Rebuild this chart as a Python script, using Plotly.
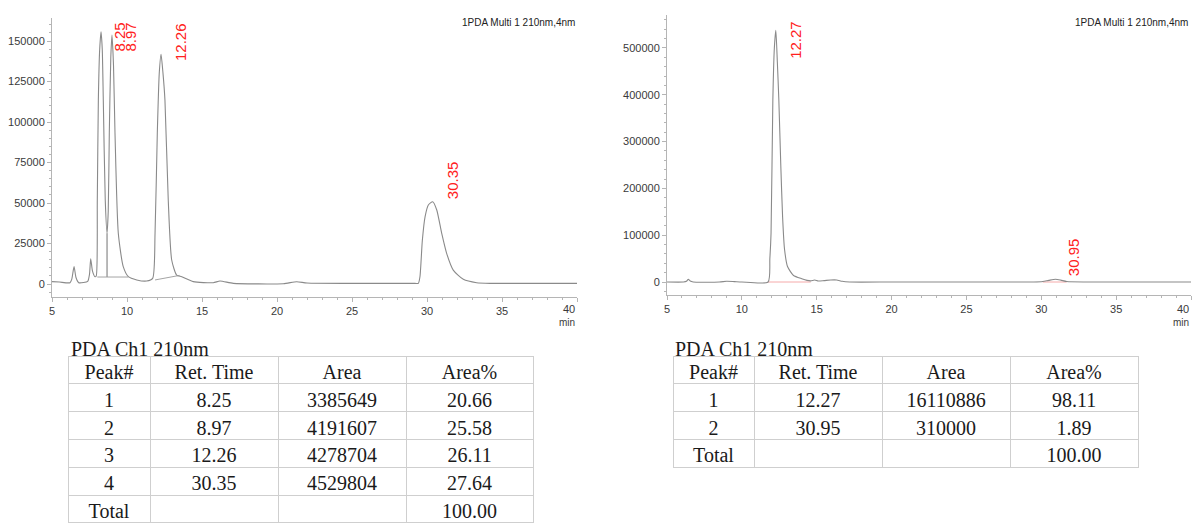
import plotly.graph_objects as go

W, H = 1192, 524

# ---------------- Data: left chromatogram (sample 1) ----------------
left_time = [5.0, 5.5, 6.2, 6.32, 6.47, 6.6, 6.78, 7.1, 7.38, 7.5, 7.58, 7.7, 7.87, 7.95, 8.02, 8.09, 8.18, 8.27,
             8.35, 8.42, 8.55, 8.67, 8.75, 8.82, 8.92, 9.0, 9.1, 9.2, 9.42, 9.75, 10.09, 10.65, 11.31, 11.71,
             11.87, 12.02, 12.15, 12.27, 12.4, 12.53, 12.75, 12.98, 13.31, 13.65, 14.42, 15.75, 16.2, 17.09,
             20.42, 21.31, 22.0, 25.0, 29.2, 29.42, 29.53, 29.69, 29.87, 30.09, 30.38, 30.65, 30.98, 31.31,
             31.75, 32.42, 33.31, 34.2, 37.0, 40.0]
left_signal = [1450, 1200, 800, 3000, 10700, 4000, 800, 900, 1600, 6000, 15600, 8000, 4500, 5000, 51800, 113500,
               145000, 155700, 145000, 113500, 51800, 31300, 45000, 93000, 140000, 153700, 135000, 93000, 31300,
               10700, 4500, 2500, 1850, 3500, 31300, 93000, 130000, 141800, 130000, 113500, 51800, 14800, 5500,
               4500, 1450, 800, 1850, 400, 200, 1400, 600, 400, 400, 400, 4500, 27000, 41500, 48800, 50800, 45700,
               31300, 18900, 8600, 2900, 800, 400, 400, 400]
# integration baselines / drop lines (left)
left_base1_time = [8.02, 8.67, 8.67, 8.67, 10.09]
left_base1_signal = [4300, 4300, 31300, 4300, 4300]
left_base2_time = [11.87, 13.5]
left_base2_signal = [2500, 5300]

left_peak_labels = ["8.25", "8.97", "12.26", "30.35"]
left_label_time = [9.47, 10.2, 13.53, 31.67]
left_label_signal = [142600, 142600, 137000, 51800]

# ---------------- Data: right chromatogram (sample 2) ----------------
right_time = [5.0, 6.1, 6.3, 6.42, 6.55, 6.75, 8.5, 8.98, 9.5, 10.0, 11.75, 11.87, 11.95, 12.07, 12.17, 12.27,
              12.37, 12.47, 12.6, 12.72, 12.85, 13.05, 13.45, 14.0, 14.35, 14.6, 14.87, 15.1, 15.5, 15.93, 16.33,
              16.7, 17.2, 20.0, 25.0, 29.5, 30.1, 30.5, 30.95, 31.3, 31.7, 33.0, 36.0, 40.0]
right_signal = [0, 0, 1500, 5800, 2000, 0, 0, 1500, 800, 0, 0, 50000, 104700, 389000, 500000, 538000, 470000,
                389000, 250000, 140000, 70000, 33000, 14000, 7000, 3500, 2500, 4300, 2000, 3000, 4300, 4300, 1500,
                0, 0, 0, 0, 1000, 3500, 5800, 4000, 1000, 0, 0, 0]
right_base_time = [11.75, 14.6]
right_base_signal = [0, 0]
right_base2_time = [30.1, 31.7]
right_base2_signal = [0, 0]

right_peak_labels = ["12.27", "30.95"]
right_label_time = [13.53, 32.2]
right_label_signal = [474000, 10700]

# ---------------- Axis tick labels ----------------
x_tickvals = [5, 10, 15, 20, 25, 30, 35, 40]
x_ticktext = ["5", "10", "15", "20", "25", "30", "35", ""]   # "40" drawn right-aligned with "min"
x_end_label = "40"
x_unit = "min"

# ---------------- Data: tables ----------------
table_header = ["Peak#", "Ret. Time", "Area", "Area%"]
left_peak_no = ["1", "2", "3", "4", "Total"]
left_ret = ["8.25", "8.97", "12.26", "30.35", ""]
left_area = ["3385649", "4191607", "4278704", "4529804", ""]
left_area_pct = ["20.66", "25.58", "26.11", "27.64", "100.00"]

right_peak_no = ["1", "2", "Total"]
right_ret = ["12.27", "30.95", ""]
right_area = ["16110886", "310000", ""]
right_area_pct = ["98.11", "1.89", "100.00"]

channel_text = "1PDA Multi 1 210nm,4nm"
table_title = "PDA Ch1 210nm"

# ---------------- Figure ----------------
def px_x(p):
    return p / W

def px_y(p):
    return 1 - p / H

TRACE = "#8a8a8a"
AXIS = "#b5b5b5"
TICKC = "#3a3a3a"
RED = "#ff2020"
SANS = "Liberation Sans, Arial, sans-serif"
SERIF = "Liberation Serif, Times New Roman, serif"

fig = go.Figure()

fig.add_trace(go.Scatter(x=left_time, y=left_signal, mode="lines",
                         line=dict(color=TRACE, width=1.1, shape="spline", smoothing=0.6),
                         xaxis="x", yaxis="y", showlegend=False, hoverinfo="skip"))
fig.add_trace(go.Scatter(x=left_base1_time, y=left_base1_signal, mode="lines", line=dict(color="#9a9a9a", width=0.9),
                         xaxis="x", yaxis="y", showlegend=False, hoverinfo="skip"))
fig.add_trace(go.Scatter(x=left_base2_time, y=left_base2_signal, mode="lines", line=dict(color="#9a9a9a", width=0.9),
                         xaxis="x", yaxis="y", showlegend=False, hoverinfo="skip"))

fig.add_trace(go.Scatter(x=right_base_time, y=right_base_signal, mode="lines", line=dict(color="#f4a0a0", width=0.9),
                         xaxis="x2", yaxis="y2", showlegend=False, hoverinfo="skip"))
fig.add_trace(go.Scatter(x=right_base2_time, y=right_base2_signal, mode="lines", line=dict(color="#f4a0a0", width=0.9),
                         xaxis="x2", yaxis="y2", showlegend=False, hoverinfo="skip"))
fig.add_trace(go.Scatter(x=right_time, y=right_signal, mode="lines",
                         line=dict(color=TRACE, width=1.1, shape="spline", smoothing=0.6),
                         xaxis="x2", yaxis="y2", showlegend=False, hoverinfo="skip"))

# Tables
cell_font = dict(family=SERIF, size=20, color="#1a1a1a")
tline = dict(color="#cfcfcf", width=1)
RH = 27.8
fig.add_trace(go.Table(
    domain=dict(x=[px_x(68), px_x(533)], y=[0, px_y(356)]),
    columnwidth=[82, 128, 128, 127],
    header=dict(values=table_header, font=cell_font, align="center", height=RH, line=tline, fill_color="white"),
    cells=dict(values=[left_peak_no, left_ret, left_area, left_area_pct], font=cell_font, align="center",
               height=RH, line=tline, fill_color="white"),
))
fig.add_trace(go.Table(
    domain=dict(x=[px_x(673), px_x(1138)], y=[px_y(472), px_y(356)]),
    columnwidth=[81, 128, 128, 128],
    header=dict(values=table_header, font=cell_font, align="center", height=RH, line=tline, fill_color="white"),
    cells=dict(values=[right_peak_no, right_ret, right_area, right_area_pct], font=cell_font, align="center",
               height=RH, line=tline, fill_color="white"),
))

axis_common = dict(showgrid=False, zeroline=False, showline=True, linecolor=AXIS, linewidth=1, automargin=False,
                   ticks="outside", ticklen=4, tickcolor=AXIS, tickfont=dict(family=SANS, size=11, color=TICKC))

fig.update_layout(
    width=W, height=H,
    margin=dict(l=0, r=0, t=0, b=0),
    paper_bgcolor="white", plot_bgcolor="white",
    xaxis=dict(domain=[px_x(52), px_x(577)], range=[5, 40], anchor="y", tickmode="array",
               tickvals=x_tickvals, ticktext=x_ticktext,
               minor=dict(dtick=1, tick0=5, ticks="outside", ticklen=2, tickcolor=AXIS), **axis_common),
    yaxis=dict(domain=[px_y(297), px_y(18)], range=[-8025, 164200], anchor="x", tickmode="linear", tick0=0,
               dtick=25000, tickformat="d", minor=dict(dtick=5000, ticks="outside", ticklen=2, tickcolor=AXIS),
               **axis_common),
    xaxis2=dict(domain=[px_x(667), px_x(1191)], range=[5, 40], anchor="y2", tickmode="array",
                tickvals=x_tickvals, ticktext=x_ticktext,
                minor=dict(dtick=1, tick0=5, ticks="outside", ticklen=2, tickcolor=AXIS), **axis_common),
    yaxis2=dict(domain=[px_y(295), px_y(15)], range=[-27780, 570500], anchor="x2", tickmode="linear", tick0=0,
                dtick=100000, tickformat="d", minor=dict(dtick=20000, ticks="outside", ticklen=2, tickcolor=AXIS),
                **axis_common),
)

annotations = []
for lab, t, s in zip(left_peak_labels, left_label_time, left_label_signal):
    annotations.append(dict(x=t, y=s, xref="x", yref="y", text=lab, textangle=-90, showarrow=False,
                            xanchor="center", yanchor="bottom", font=dict(family=SANS, size=15, color=RED),
                            borderpad=0))
for lab, t, s in zip(right_peak_labels, right_label_time, right_label_signal):
    annotations.append(dict(x=t, y=s, xref="x2", yref="y2", text=lab, textangle=-90, showarrow=False,
                            xanchor="center", yanchor="bottom", font=dict(family=SANS, size=15, color=RED),
                            borderpad=0))
# channel labels
for xr in (577, 1190):
    annotations.append(dict(x=px_x(xr), y=px_y(22), xref="paper", yref="paper", text=channel_text, showarrow=False,
                            xanchor="right", yanchor="middle", font=dict(family=SANS, size=10, color="#222")))
# end tick label "40" and unit "min", right-aligned at the axis end
for xr in ("x", "x2"):
    annotations.append(dict(x=40, y=px_y(309), xref=xr, yref="paper", text=x_end_label, showarrow=False,
                            xanchor="right", yanchor="middle", font=dict(family=SANS, size=11, color=TICKC)))
    annotations.append(dict(x=40, y=px_y(322), xref=xr, yref="paper", text=x_unit, showarrow=False,
                            xanchor="right", yanchor="middle", font=dict(family=SANS, size=10, color=TICKC)))
# table titles
for xl in (69, 673):
    annotations.append(dict(x=px_x(xl), y=px_y(349), xref="paper", yref="paper", text=table_title, showarrow=False,
                            xanchor="left", yanchor="middle", font=dict(family=SERIF, size=20, color="#1a1a1a")))
fig.update_layout(annotations=annotations)

# remove the browser's default 8px body margin so the figure sits at the page origin; hide the modebar
fig.write_html("out.html", config={"displayModeBar": False},
               post_script="document.body.style.margin='0px';")
